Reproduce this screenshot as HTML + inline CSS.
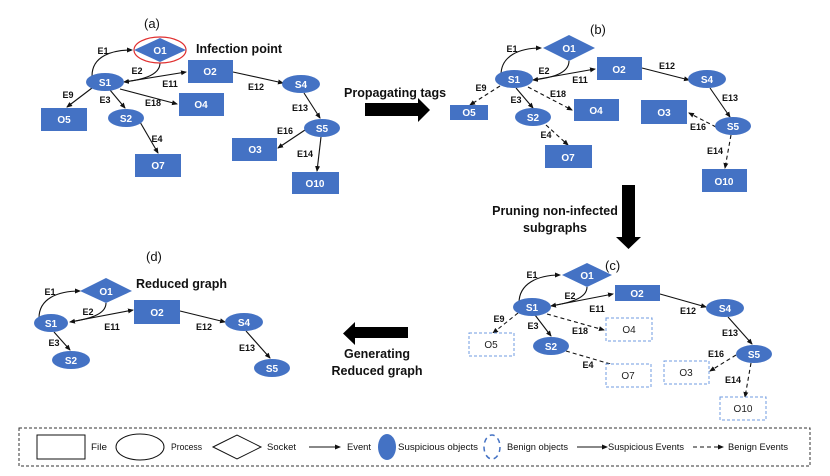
<!DOCTYPE html>
<html><head><meta charset="utf-8"><style>
html,body{margin:0;padding:0;background:#fff;}
svg{display:block;}
text{font-family:"Liberation Sans",sans-serif;}
.n{fill:#4472C4;}
.w{fill:#fff;font-size:10px;font-weight:bold;text-anchor:middle;}
.k{fill:#222;font-size:10px;text-anchor:middle;}
.l{fill:#111;font-size:9px;font-weight:bold;text-anchor:middle;}
.e{stroke:#111;stroke-width:1.1;fill:none;marker-end:url(#ah);}
.d{stroke:#111;stroke-width:1.1;fill:none;stroke-dasharray:4,3;marker-end:url(#ah);}
.bd{fill:#fff;stroke:#6f9be0;stroke-width:1;stroke-dasharray:3,2;}
.t{fill:#111;font-size:12.5px;font-weight:bold;}
.p{fill:#111;font-size:13px;}
.lg{fill:#111;font-size:9px;}
</style></head><body>
<svg width="830" height="476" viewBox="0 0 830 476" xmlns="http://www.w3.org/2000/svg">
<defs><marker id="ah" markerWidth="6" markerHeight="6" refX="5" refY="3" orient="auto" markerUnits="userSpaceOnUse"><path d="M0,0.5 L6,3 L0,5.5 z" fill="#111"/></marker></defs>

<!-- (a) -->
<text class="p" x="144" y="28">(a)</text>
<path class="e" d="M92,76 C92,56 112,50 132,50"/>
<path class="e" d="M160,63 C160,76 140,80 124,82"/>
<path class="e" d="M124,82 L186,72"/>
<path class="e" d="M120,89 L177,104"/>
<path class="e" d="M92,88 L67,107"/>
<path class="e" d="M110,90 L125,108"/>
<path class="e" d="M140,122 L158,153"/>
<path class="e" d="M233,72 L283,83"/>
<path class="e" d="M304,93 L320,118"/>
<path class="e" d="M305,130 L278,148"/>
<path class="e" d="M321,137 L317,171"/>
<ellipse cx="160" cy="50" rx="26" ry="13" fill="none" stroke="#e03030" stroke-width="1.2"/>
<polygon class="n" points="134,50 160,38 186,50 160,62"/>
<text class="w" x="160" y="54">O1</text>
<text class="t" x="196" y="53">Infection point</text>
<rect class="n" x="188" y="60" width="45" height="23"/><text class="w" x="210" y="75">O2</text>
<ellipse class="n" cx="105" cy="82" rx="19" ry="9"/><text class="w" x="105" y="86">S1</text>
<rect class="n" x="179" y="93" width="45" height="23"/><text class="w" x="201" y="108">O4</text>
<rect class="n" x="41" y="108" width="46" height="23"/><text class="w" x="64" y="123">O5</text>
<ellipse class="n" cx="126" cy="118" rx="18" ry="9"/><text class="w" x="126" y="122">S2</text>
<rect class="n" x="135" y="154" width="46" height="23"/><text class="w" x="158" y="169">O7</text>
<ellipse class="n" cx="301" cy="84" rx="19" ry="9"/><text class="w" x="301" y="88">S4</text>
<ellipse class="n" cx="322" cy="128" rx="18" ry="9"/><text class="w" x="322" y="132">S5</text>
<rect class="n" x="232" y="138" width="45" height="23"/><text class="w" x="255" y="153">O3</text>
<rect class="n" x="292" y="172" width="47" height="22"/><text class="w" x="315" y="187">O10</text>
<text class="l" x="103" y="54">E1</text><text class="l" x="137" y="74">E2</text><text class="l" x="170" y="87">E11</text>
<text class="l" x="256" y="90">E12</text><text class="l" x="68" y="98">E9</text><text class="l" x="105" y="103">E3</text>
<text class="l" x="153" y="106">E18</text><text class="l" x="157" y="142">E4</text><text class="l" x="300" y="111">E13</text>
<text class="l" x="285" y="134">E16</text><text class="l" x="305" y="157">E14</text>

<!-- Propagating arrow -->
<text class="t" x="344" y="97">Propagating tags</text>
<polygon fill="#000" points="365,103 418,103 418,98 430,110 418,122 418,116 365,116"/>

<!-- (b) -->
<text class="p" x="590" y="34">(b)</text>
<path class="e" d="M501,75 C501,56 519,48 541,48"/>
<path class="e" d="M569,61 C569,74 550,78 533,80"/>
<path class="e" d="M533,80 L595,69"/>
<path class="e" d="M642,68 L689,80"/>
<path class="e" d="M710,88 L730,117"/>
<path class="d" d="M500,86 L470,105"/>
<path class="d" d="M528,87 L572,110"/>
<path class="e" d="M516,88 L533,108"/>
<path class="d" d="M546,125 L568,145"/>
<path class="d" d="M716,127 L689,113"/>
<path class="d" d="M731,135 L725,168"/>
<polygon class="n" points="543,48 569,35 595,48 569,61"/><text class="w" x="569" y="52">O1</text>
<ellipse class="n" cx="514" cy="79" rx="19" ry="9"/><text class="w" x="514" y="83">S1</text>
<rect class="n" x="597" y="57" width="45" height="23"/><text class="w" x="619" y="73">O2</text>
<ellipse class="n" cx="707" cy="79" rx="19" ry="9"/><text class="w" x="707" y="83">S4</text>
<ellipse class="n" cx="733" cy="126" rx="18" ry="9"/><text class="w" x="733" y="130">S5</text>
<rect class="n" x="641" y="100" width="46" height="24"/><text class="w" x="664" y="116">O3</text>
<rect class="n" x="702" y="169" width="45" height="23"/><text class="w" x="724" y="185">O10</text>
<rect class="n" x="450" y="105" width="38" height="15"/><text class="w" x="469" y="116">O5</text>
<rect class="n" x="574" y="99" width="45" height="22"/><text class="w" x="596" y="114">O4</text>
<ellipse class="n" cx="533" cy="117" rx="18" ry="9"/><text class="w" x="533" y="121">S2</text>
<rect class="n" x="545" y="145" width="47" height="23"/><text class="w" x="568" y="161">O7</text>
<text class="l" x="512" y="52">E1</text><text class="l" x="544" y="74">E2</text><text class="l" x="580" y="83">E11</text>
<text class="l" x="667" y="69">E12</text><text class="l" x="481" y="91">E9</text><text class="l" x="516" y="103">E3</text>
<text class="l" x="558" y="97">E18</text><text class="l" x="546" y="138">E4</text><text class="l" x="730" y="101">E13</text>
<text class="l" x="698" y="130">E16</text><text class="l" x="715" y="154">E14</text>

<!-- Down arrow -->
<text class="t" x="555" y="215" text-anchor="middle">Pruning non-infected</text>
<text class="t" x="555" y="232" text-anchor="middle">subgraphs</text>
<polygon fill="#000" points="622,185 635,185 635,237 641,237 628.5,249 616,237 622,237"/>

<!-- (c) -->
<text class="p" x="605" y="270">(c)</text>
<path class="e" d="M519,303 C519,284 537,275 560,275"/>
<path class="e" d="M587,287 C587,299 568,303 551,306"/>
<path class="e" d="M551,306 L613,294"/>
<path class="e" d="M660,294 L706,307"/>
<path class="e" d="M728,317 L752,344"/>
<path class="e" d="M535,315 L551,336"/>
<path class="d" d="M518,313 L493,333"/>
<path class="d" d="M547,314 L604,330"/>
<path class="d" d="M566,351 L624,368"/>
<path class="d" d="M736,355 L710,371"/>
<path class="d" d="M751,363 L745,397"/>
<polygon class="n" points="562,275 587,263 612,275 587,287"/><text class="w" x="587" y="279">O1</text>
<rect class="n" x="615" y="285" width="45" height="16"/><text class="w" x="637" y="297">O2</text>
<ellipse class="n" cx="532" cy="307" rx="19" ry="9"/><text class="w" x="532" y="311">S1</text>
<ellipse class="n" cx="725" cy="308" rx="19" ry="9"/><text class="w" x="725" y="312">S4</text>
<ellipse class="n" cx="754" cy="354" rx="18" ry="9"/><text class="w" x="754" y="358">S5</text>
<ellipse class="n" cx="551" cy="346" rx="18" ry="9"/><text class="w" x="551" y="350">S2</text>
<rect class="bd" x="469" y="333" width="45" height="23"/><text class="k" x="491" y="348">O5</text>
<rect class="bd" x="606" y="318" width="46" height="23"/><text class="k" x="629" y="333">O4</text>
<rect class="bd" x="606" y="364" width="45" height="23"/><text class="k" x="628" y="379">O7</text>
<rect class="bd" x="664" y="361" width="45" height="23"/><text class="k" x="686" y="376">O3</text>
<rect class="bd" x="720" y="397" width="46" height="23"/><text class="k" x="743" y="412">O10</text>
<text class="l" x="532" y="278">E1</text><text class="l" x="570" y="299">E2</text><text class="l" x="597" y="312">E11</text>
<text class="l" x="688" y="314">E12</text><text class="l" x="499" y="322">E9</text><text class="l" x="533" y="329">E3</text>
<text class="l" x="580" y="334">E18</text><text class="l" x="588" y="368">E4</text><text class="l" x="730" y="336">E13</text>
<text class="l" x="716" y="357">E16</text><text class="l" x="733" y="383">E14</text>

<!-- Generating arrow -->
<polygon fill="#000" points="408,327 355,327 355,322 343,333.5 355,345 355,338 408,338"/>
<text class="t" x="377" y="358" text-anchor="middle">Generating</text>
<text class="t" x="377" y="375" text-anchor="middle">Reduced graph</text>

<!-- (d) -->
<text class="p" x="146" y="261">(d)</text>
<path class="e" d="M39,318 C39,299 57,291 80,291"/>
<path class="e" d="M106,303 C106,315 88,319 70,322"/>
<path class="e" d="M70,322 L133,310"/>
<path class="e" d="M180,311 L225,322"/>
<path class="e" d="M54,332 L70,350"/>
<path class="e" d="M246,331 L270,358"/>
<polygon class="n" points="80,291 106,278 132,291 106,303"/><text class="w" x="106" y="295">O1</text>
<text class="t" x="136" y="288">Reduced graph</text>
<rect class="n" x="134" y="300" width="46" height="24"/><text class="w" x="157" y="316">O2</text>
<ellipse class="n" cx="51" cy="323" rx="17" ry="9"/><text class="w" x="51" y="327">S1</text>
<ellipse class="n" cx="71" cy="360" rx="19" ry="9"/><text class="w" x="71" y="364">S2</text>
<ellipse class="n" cx="244" cy="322" rx="19" ry="9"/><text class="w" x="244" y="326">S4</text>
<ellipse class="n" cx="272" cy="368" rx="18" ry="9"/><text class="w" x="272" y="372">S5</text>
<text class="l" x="50" y="295">E1</text><text class="l" x="88" y="315">E2</text><text class="l" x="112" y="330">E11</text>
<text class="l" x="204" y="330">E12</text><text class="l" x="54" y="346">E3</text><text class="l" x="247" y="351">E13</text>

<!-- Legend -->
<rect x="19" y="428" width="791" height="38" fill="none" stroke="#333" stroke-width="1" stroke-dasharray="3,2"/>
<rect x="37" y="435" width="48" height="24" fill="#fff" stroke="#111" stroke-width="1"/>
<text class="lg" x="91" y="450" textLength="16" lengthAdjust="spacingAndGlyphs">File</text>
<ellipse cx="140" cy="447" rx="24" ry="13" fill="#fff" stroke="#111" stroke-width="1"/>
<text class="lg" x="171" y="450" textLength="31" lengthAdjust="spacingAndGlyphs">Process</text>
<polygon points="213,447 237,435 261,447 237,459" fill="#fff" stroke="#111" stroke-width="1"/>
<text class="lg" x="267" y="450" textLength="29" lengthAdjust="spacingAndGlyphs">Socket</text>
<path class="e" d="M309,447 L340,447"/>
<text class="lg" x="347" y="450" textLength="24" lengthAdjust="spacingAndGlyphs">Event</text>
<ellipse class="n" cx="387" cy="447" rx="9" ry="13"/>
<text class="lg" x="398" y="450" textLength="80" lengthAdjust="spacingAndGlyphs">Suspicious objects</text>
<ellipse cx="492" cy="447" rx="8" ry="12" fill="none" stroke="#4472C4" stroke-width="1.5" stroke-dasharray="5,4"/>
<text class="lg" x="507" y="450" textLength="61" lengthAdjust="spacingAndGlyphs">Benign objects</text>
<path class="e" d="M577,447 L607,447"/>
<text class="lg" x="608" y="450" textLength="76" lengthAdjust="spacingAndGlyphs">Suspicious Events</text>
<path class="d" d="M693,447 L723,447"/>
<text class="lg" x="728" y="450" textLength="60" lengthAdjust="spacingAndGlyphs">Benign Events</text>
</svg>
</body></html>
